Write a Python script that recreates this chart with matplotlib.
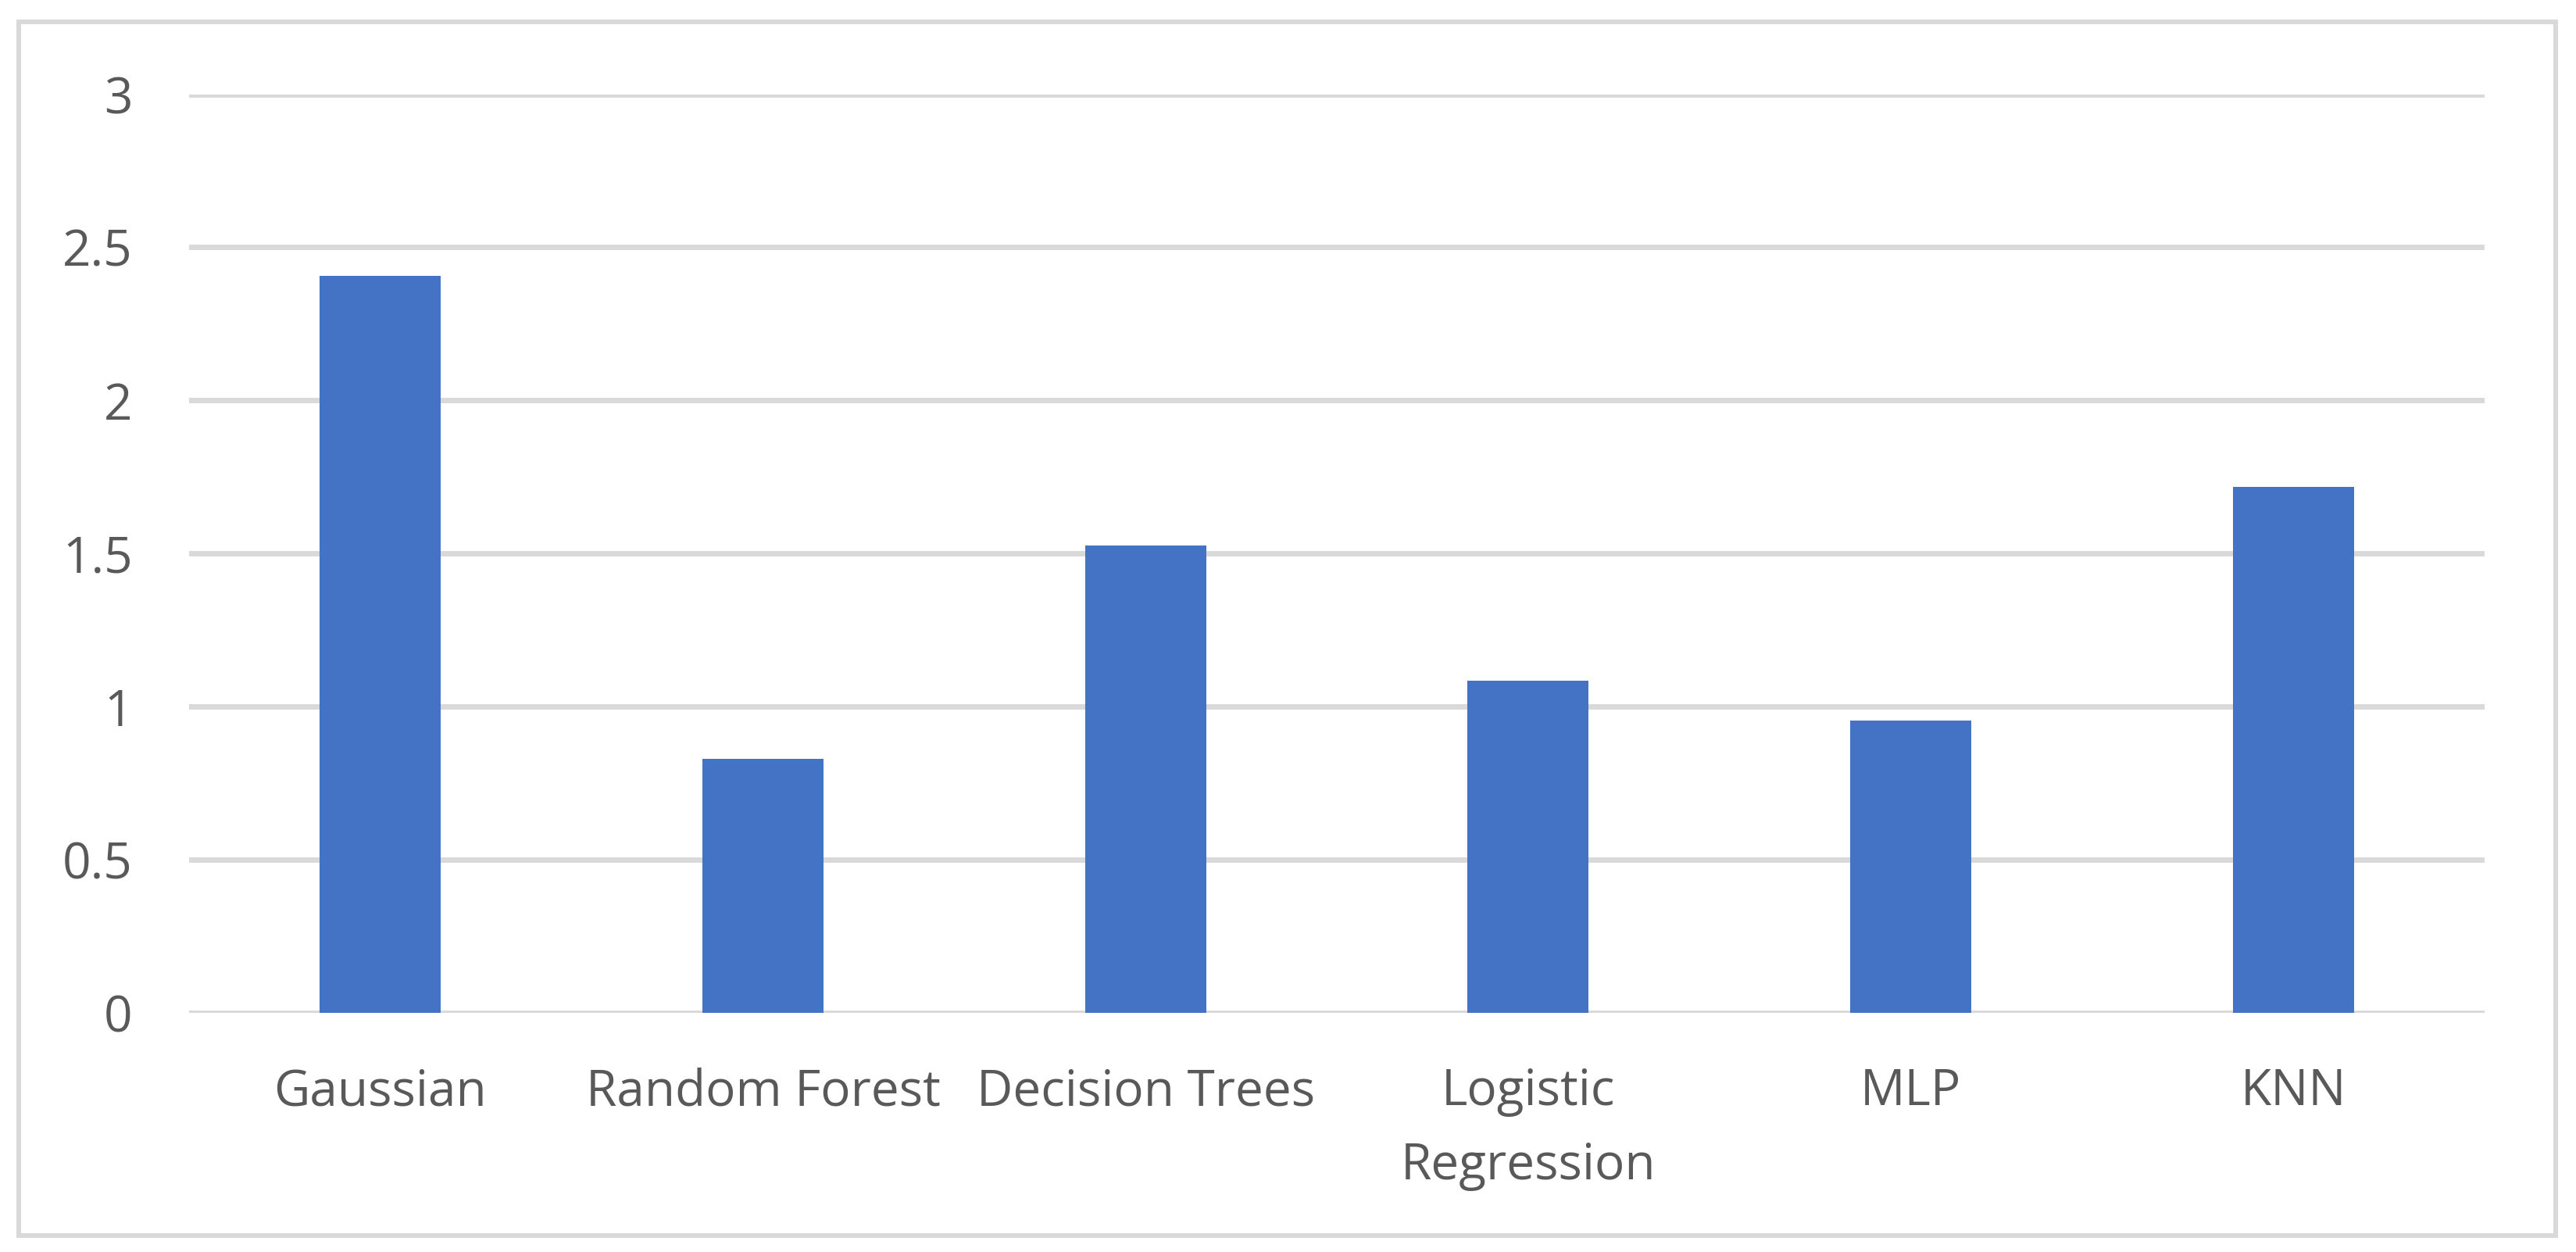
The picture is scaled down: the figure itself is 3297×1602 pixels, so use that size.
import matplotlib.pyplot as plt
from matplotlib.patches import Rectangle

# Data
models = ["Gaussian", "Random Forest", "Decision Trees", "Logistic\nRegression", "MLP", "KNN"]
scores = [2.407, 0.83, 1.525, 1.085, 0.955, 1.718]
yticks = [0, 0.5, 1, 1.5, 2, 2.5, 3]
ytick_labels = ["0", "0.5", "1", "1.5", "2", "2.5", "3"]

plt.rcParams['font.family'] = ['Open Sans', 'DejaVu Sans']

fig = plt.figure(figsize=(32.97, 16.02), dpi=100)
ax = fig.add_axes([242/3297, 306/1602, (3180-242)/3297, (1296-120.5)/1602])

x = range(len(models))
ax.bar(x, scores, width=0.316, color="#4472C4", zorder=3)

ax.set_xlim(-0.5, len(models) - 0.5)
ax.set_ylim(0, 3)
ax.set_yticks(yticks)
ax.set_yticklabels(ytick_labels)
ax.set_xticks(list(x))
ax.set_xticklabels(models, linespacing=1.62)

# horizontal grid, no spines or tick marks
ax.grid(axis="y", color="#D9D9D9", linewidth=5, zorder=0)
for s in ax.spines.values():
    s.set_visible(False)
ax.tick_params(axis="both", length=0, labelsize=46, labelcolor="#595959")
ax.tick_params(axis="y", pad=52)
ax.tick_params(axis="x", pad=50)

# outer chart border
fig.patches.append(Rectangle((24/3297, 21/1602), (3271-24)/3297, (1574-21)/1602,
                             transform=fig.transFigure, fill=False,
                             edgecolor="#D9D9D9", linewidth=4.3))

fig.savefig("out.png", dpi=100)
